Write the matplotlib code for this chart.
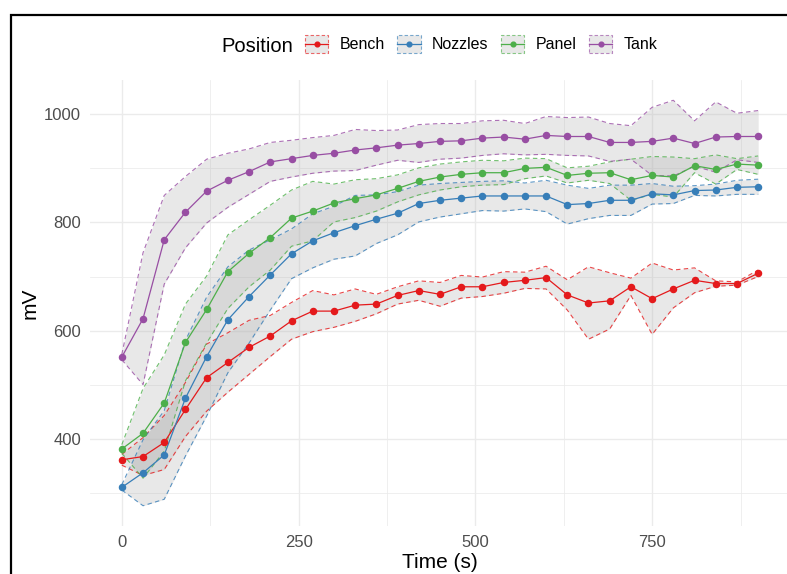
import matplotlib
matplotlib.use("Agg")
import matplotlib.pyplot as plt
from matplotlib.colors import to_rgba
from matplotlib.legend_handler import HandlerBase
from matplotlib.lines import Line2D
from matplotlib.patches import Rectangle
import numpy as np

plt.rcParams["font.family"] = ["Liberation Sans", "DejaVu Sans"]

# ---------------------------------------------------------------------------
# Data: mean mV and spread per position
# ---------------------------------------------------------------------------

time_s = [0, 30, 60, 90, 120, 150, 180, 210, 240, 270, 300, 330, 360, 390, 420,
          450, 480, 510, 540, 570, 600, 630, 660, 690, 720, 750, 780, 810, 840,
          870, 900]

bench_mean = [361, 367, 393, 454, 513, 541, 569, 590, 618, 636, 636, 647, 649, 665,
              674, 667, 681, 681, 689, 693, 698, 666, 651, 655, 681, 659, 677, 693,
              687, 687, 706]
bench_sd = [10, 35, 50, 50, 62, 55, 50, 38, 34, 38, 30, 30, 18, 16, 18, 22, 21, 18,
            20, 15, 21, 28, 67, 52, 16, 66, 35, 23, 5, 3, 6]

nozzles_mean = [310, 337, 370, 475, 552, 620, 663, 703, 742, 766, 781, 794, 806, 817,
                835, 841, 845, 849, 849, 849, 849, 833, 835, 841, 841, 853, 851, 859,
                860, 865, 866]
nozzles_sd = [5, 61, 82, 107, 110, 98, 86, 65, 46, 50, 49, 56, 45, 40, 34, 31, 29, 27,
              28, 24, 29, 36, 28, 28, 28, 19, 16, 9, 11, 13, 14]

panel_mean = [381, 410, 466, 578, 639, 709, 743, 772, 808, 821, 836, 844, 851, 863,
              876, 884, 889, 892, 892, 900, 902, 887, 891, 892, 879, 887, 884, 905,
              898, 908, 906]
panel_sd = [8, 83, 89, 71, 62, 68, 62, 60, 52, 55, 35, 35, 30, 25, 25, 24, 23, 23, 22,
            19, 16, 14, 13, 20, 38, 35, 37, 13, 27, 10, 17]

tank_mean = [551, 622, 768, 819, 858, 878, 894, 912, 918, 924, 928, 934, 938, 943,
             946, 950, 951, 956, 958, 954, 961, 959, 959, 948, 948, 950, 956, 946,
             958, 959, 959]
tank_sd = [5, 122, 82, 66, 59, 50, 42, 36, 34, 33, 33, 38, 32, 28, 35, 33, 32, 32, 31,
           29, 35, 35, 36, 35, 31, 63, 70, 42, 65, 43, 48]

positions = ["Bench", "Nozzles", "Panel", "Tank"]
means = [bench_mean, nozzles_mean, panel_mean, tank_mean]
sds = [bench_sd, nozzles_sd, panel_sd, tank_sd]

# ---------------------------------------------------------------------------
# Style
# ---------------------------------------------------------------------------

COLORS = {
    "Bench": "#E41A1C",
    "Nozzles": "#377EB8",
    "Panel": "#4DAF4A",
    "Tank": "#984EA3",
}
RIBBON = (0.70, 0.70, 0.70, 0.30)
GRID = "#EBEBEB"
TICK_TXT = "#4D4D4D"
DASH = (0, (4, 3))
EDGE_ALPHA = 0.8


class RibbonKey(HandlerBase):
    """Legend key: grey box with dashed coloured border, line and dot."""

    def create_artists(self, legend, orig_handle, xdescent, ydescent, width,
                       height, fontsize, trans):
        color = orig_handle.get_color()
        x0, y0 = -xdescent, -ydescent
        ymid = y0 + height / 2
        box = Rectangle((x0, y0), width, height, facecolor=RIBBON,
                        edgecolor=to_rgba(color, 0.65), linestyle=(0, (3, 2)),
                        linewidth=0.8, transform=trans)
        line = Line2D([x0, x0 + width], [ymid, ymid], color=color,
                      linewidth=0.9, transform=trans)
        dot = Line2D([x0 + width / 2], [ymid], color=color, marker="o",
                     markersize=3.4, linestyle="none", transform=trans)
        return [box, line, dot]


W, H = 787, 574
fig = plt.figure(figsize=(W / 100, H / 100), dpi=100)
ax = fig.add_axes([90 / W, 1 - 526 / H, 700 / W, 446 / H])

t = np.array(time_s)
for name, m, s in zip(positions, means, sds):
    m = np.array(m, dtype=float)
    s = np.array(s, dtype=float)
    ax.fill_between(t, m - s, m + s, color=RIBBON, linewidth=0, zorder=1)
    for edge in (m - s, m + s):
        ax.plot(t, edge, color=COLORS[name], linestyle=DASH, linewidth=0.8,
                alpha=EDGE_ALPHA, zorder=2)

for name, m in zip(positions, means):
    ax.plot(t, m, color=COLORS[name], linewidth=0.9, zorder=3)
    ax.plot(t, m, linestyle="none", marker="o", markersize=4.4,
            color=COLORS[name], zorder=4)

# ggplot-like 5% expansion
x_lo, x_hi = min(time_s), max(time_s)
x_pad = 0.05 * (x_hi - x_lo)
lows = [np.array(m) - np.array(s) for m, s in zip(means, sds)]
highs = [np.array(m) + np.array(s) for m, s in zip(means, sds)]
y_lo = min(a.min() for a in lows)
y_hi = max(a.max() for a in highs)
y_pad = 0.05 * (y_hi - y_lo)
ax.set_xlim(x_lo - x_pad, x_hi + x_pad)
ax.set_ylim(y_lo - y_pad, y_hi + y_pad)

ax.set_xticks([0, 250, 500, 750])
ax.set_xticks([125, 375, 625, 875], minor=True)
ax.set_yticks([400, 600, 800, 1000])
ax.set_yticks([300, 500, 700, 900], minor=True)
ax.grid(True, which="major", color=GRID, linewidth=1.0, zorder=0)
ax.grid(True, which="minor", color=GRID, linewidth=0.55, zorder=0)
ax.set_axisbelow(True)
for sp in ax.spines.values():
    sp.set_visible(False)
ax.tick_params(which="both", length=0, labelsize=12, labelcolor=TICK_TXT, pad=6.5)

ax.set_xlabel("Time (s)", fontsize=15)
ax.set_ylabel("mV", fontsize=15)
ax.xaxis.label.set(va="center")
ax.xaxis.set_label_coords(0.5, (526 - 563) / 446)
ax.yaxis.label.set(va="center", ha="center", rotation_mode="default")
ax.yaxis.set_label_coords((30 - 90) / 700, 0.5)

# legend: title on the left, keys in one row
fig.text(221 / W, 1 - 52 / H, "Position", fontsize=14.5, va="baseline", ha="left")
handles = [Line2D([], [], color=COLORS[name]) for name in positions]
fig.legend(handles, positions, handler_map={Line2D: RibbonKey()},
           loc="center left", bbox_to_anchor=(305 / W, 1 - 44 / H), ncol=4,
           frameon=False, fontsize=11.5, handlelength=1.45, handleheight=1.45,
           handletextpad=0.7, columnspacing=0.8, borderpad=0, borderaxespad=0)

# black frame of the original screenshot
fig.add_artist(Rectangle((11 / W, -0.2), 1.3, 1.2 - 15 / H,
                         transform=fig.transFigure, fill=False,
                         edgecolor="black", linewidth=1.6))

fig.savefig("out.png", dpi=100)
